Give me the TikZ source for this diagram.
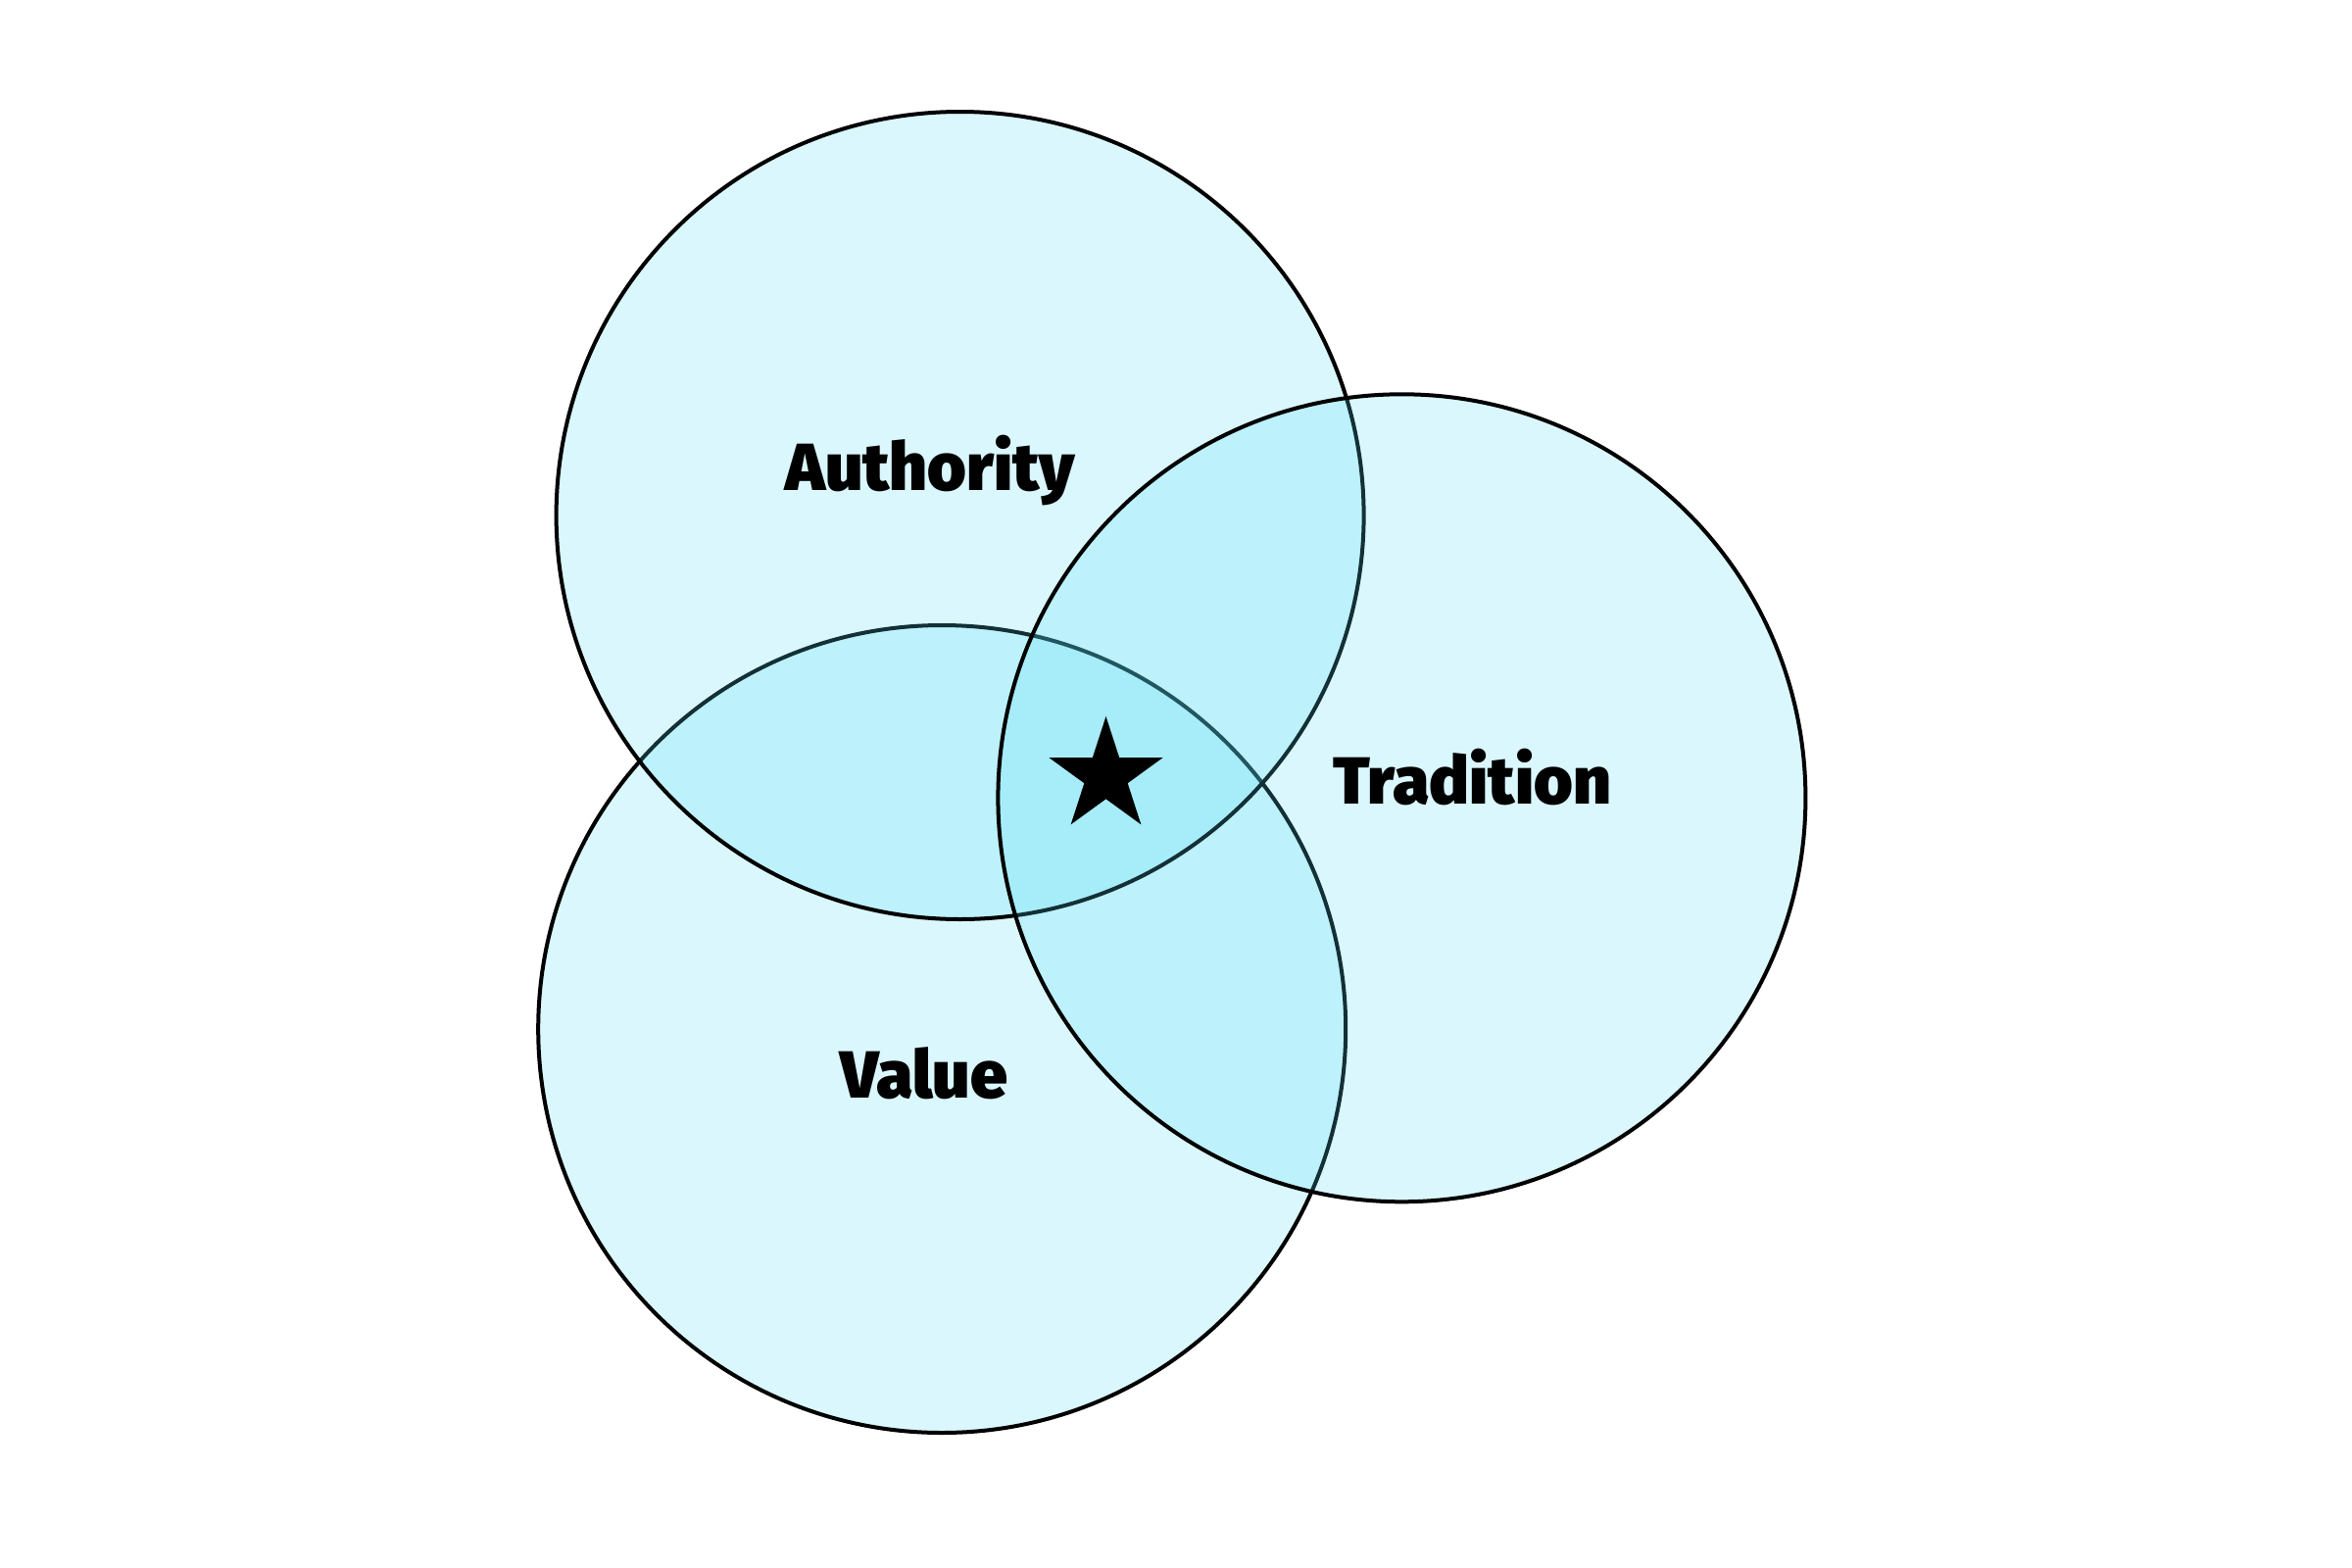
\documentclass[tikz,border=0pt]{standalone}
\usepackage{fontspec}
\setmainfont{Fira Sans}[BoldFont={Fira Sans Black}]
\usetikzlibrary{shapes.geometric}
\definecolor{venn}{RGB}{87,223,246}
\tikzset{
  set/.style={draw=black, line width=4pt, fill=venn, fill opacity=0.22},
  lbl/.style={font=\bfseries\fontsize{68}{68}\selectfont, text=black, anchor=base, inner sep=0pt},
  starmark/.style={star, star points=5, star point ratio=2.618, minimum size=122pt, inner sep=0pt, fill=black, draw=none}
}
\begin{document}
\begin{tikzpicture}[x=1pt,y=-1pt]
\useasboundingbox (0,0) rectangle (2400,1600);
\fill[white] (0,0) rectangle (2400,1600);
\draw[set] (961.2,1050) circle[radius=412];
\draw[set] (979.6,526) circle[radius=412];
\draw[set] (1430.4,814.3) circle[radius=412];
\node[lbl] (authority) at (949,500) {Authority};
\node[lbl] (tradition) at (1502,820) {Tradition};
\node[lbl] (value) at (943,1120) {Value};
\node[starmark] (star) at (1128.5,792) {};
\end{tikzpicture}
\end{document}
